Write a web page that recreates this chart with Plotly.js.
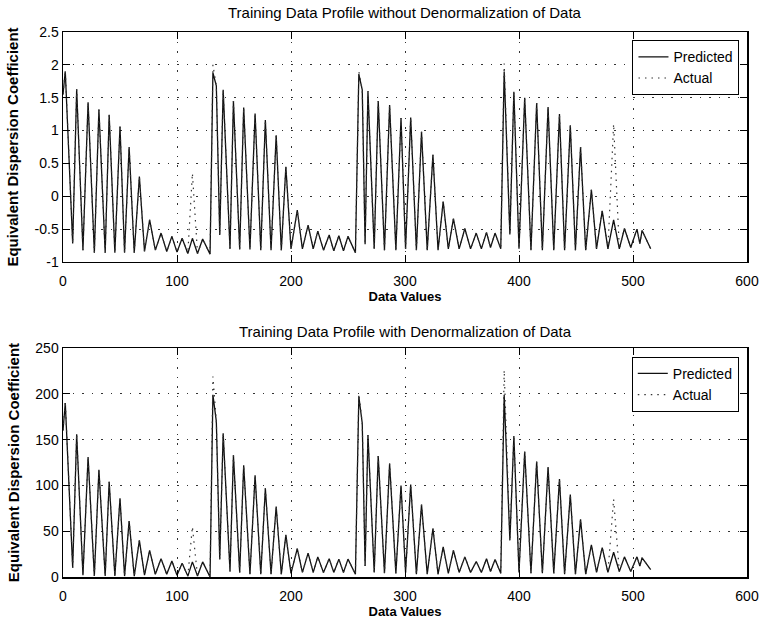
<!DOCTYPE html>
<html><head><meta charset="utf-8">
<script src="https://cdn.plot.ly/plotly-3.0.1.min.js"></script>
<style>html,body{margin:0;padding:0;background:#fff}#chart{width:759px;height:622px}</style>
</head><body><div id="chart"></div>
<script>
// Data index (vertices of the sampled profile: troughs and peaks)
const dataIndex = [
  0, 2, 8.5, 12, 17.5, 22, 27.5, 31.5, 37, 40.5, 45.5, 50, 54, 58, 62.5, 67, 71.5, 76, 81, 86, 91, 95.5, 100, 104.5, 109.5, 113.5, 118, 122.5, 129,
  131.5, 134.5, 137.5, 140.5, 146.5, 149.5, 155, 158.5, 164, 168.5, 173.5, 177.5, 182.5, 187, 191.5, 195.5, 200, 205.5, 210, 215, 219.5, 223.5, 228.5, 233.5, 237.5, 242, 246, 250, 256.5,
  259.5, 262.5, 265, 267.5, 273, 276.5, 282, 286.5, 292, 296.5, 300.5, 305, 310, 314.5, 319.5, 324.5, 329, 333.5, 338, 342.5, 347.5, 352.5, 357.5, 362.5, 367, 371.5, 375, 379, 384,
  387, 392, 395.5, 400, 405, 410.5, 415.5, 420.5, 425.5, 430.5, 435.5, 440, 445, 449.5, 454, 458.5, 463.5, 468, 473, 478, 483, 488, 492.5, 498, 503.5, 506, 508, 515.5
];

// Top panel: normalized values
const topPredicted = [
  1.55, 1.9, -0.72, 1.63, -0.82, 1.43, -0.86, 1.32, -0.86, 1.24, -0.86, 1.06, -0.86, 0.75, -0.86, 0.3, -0.84, -0.36, -0.82, -0.56, -0.84, -0.61, -0.85, -0.64, -0.87, -0.64, -0.87, -0.65, -0.88,
  1.88, 1.68, -0.59, 1.62, -0.8, 1.45, -0.81, 1.35, -0.81, 1.26, -0.82, 1.16, -0.82, 0.93, -0.82, 0.45, -0.8, -0.21, -0.8, -0.44, -0.8, -0.53, -0.82, -0.59, -0.83, -0.6, -0.83, -0.61, -0.86,
  1.86, 1.62, -0.73, 1.6, -0.8, 1.45, -0.82, 1.39, -0.82, 1.19, -0.8, 1.2, -0.82, 0.98, -0.82, 0.63, -0.82, -0.08, -0.8, -0.34, -0.8, -0.49, -0.8, -0.56, -0.8, -0.55, -0.78, -0.56, -0.8,
  1.9, -0.58, 1.59, -0.8, 1.5, -0.82, 1.42, -0.82, 1.36, -0.82, 1.25, -0.82, 1.08, -0.82, 0.75, -0.82, 0.1, -0.8, -0.22, -0.8, -0.36, -0.8, -0.49, -0.78, -0.5, -0.72, -0.52, -0.8
];
const topActual = [
  1.55, 1.92, -0.72, 1.63, -0.82, 1.43, -0.86, 1.32, -0.86, 1.24, -0.86, 1.06, -0.86, 0.75, -0.86, 0.3, -0.84, -0.36, -0.82, -0.56, -0.84, -0.61, -0.85, -0.64, -0.87, 0.35, -0.87, -0.65, -0.88,
  2.0, 1.68, -0.59, 1.62, -0.8, 1.45, -0.81, 1.35, -0.81, 1.26, -0.82, 1.16, -0.82, 0.93, -0.82, 0.45, -0.8, -0.21, -0.8, -0.44, -0.8, -0.53, -0.82, -0.59, -0.83, -0.6, -0.83, -0.61, -0.86,
  1.9, 1.62, -0.73, 1.6, -0.8, 1.45, -0.82, 1.39, -0.82, 1.19, -0.8, 1.2, -0.82, 0.98, -0.82, 0.63, -0.82, -0.08, -0.8, -0.34, -0.8, -0.49, -0.8, -0.56, -0.8, -0.55, -0.78, -0.56, -0.8,
  2.02, -0.58, 1.59, -0.8, 1.5, -0.82, 1.42, -0.82, 1.36, -0.82, 1.25, -0.82, 1.08, -0.82, 0.75, -0.82, 0.1, -0.8, -0.22, -0.8, 1.1, -0.8, -0.49, -0.78, -0.5, -0.72, -0.52, -0.8
];

// Bottom panel: denormalized values
const bottomPredicted = [
  160, 190, 10, 156, 2, 131, 1, 117, 1, 104, 1, 86, 1, 61, 1, 40, 2, 29, 3, 20, 3, 17.5, 2, 15, 1, 16.5, 1, 16.5, 0,
  199, 170, 19, 157, 6, 133, 5, 122, 3, 111, 3, 97, 3, 77, 3, 46, 4, 31, 5, 26, 5, 22, 5, 20, 5, 19.5, 5, 19.5, 3,
  197, 168, 12, 155, 5, 132, 4, 124, 4, 100, 5, 101, 3, 79, 3, 53, 3, 33, 4, 29, 5, 22, 5, 17, 5, 20, 6, 19, 4,
  199, 40, 154, 5, 137, 4, 126, 4, 120, 4, 107, 3, 90, 3, 63, 3, 35, 5, 32, 5, 27, 6, 22, 6, 22, 12, 21, 8
];
const bottomActual = [
  160, 192, 10, 156, 2, 131, 1, 117, 1, 104, 1, 86, 1, 61, 1, 40, 2, 29, 3, 20, 3, 17.5, 2, 15, 1, 55, 1, 16.5, 0,
  219, 170, 19, 157, 6, 133, 5, 122, 3, 111, 3, 97, 3, 77, 3, 46, 4, 31, 5, 26, 5, 22, 5, 20, 5, 19.5, 5, 19.5, 3,
  200, 168, 12, 155, 5, 132, 4, 124, 4, 100, 5, 101, 3, 79, 3, 53, 3, 33, 4, 29, 5, 22, 5, 17, 5, 20, 6, 19, 4,
  226, 40, 154, 5, 137, 4, 126, 4, 120, 4, 107, 3, 90, 3, 63, 3, 35, 5, 32, 5, 85, 6, 22, 6, 22, 12, 21, 8
];

const xTicks = [0, 100, 200, 300, 400, 500, 600];
const topYTicks = [-1, -0.5, 0, 0.5, 1, 1.5, 2, 2.5];
const topYLabels = ['-1', '-0.5', '0', '0.5', '1', '1.5', '2', '2.5'];
const bottomYTicks = [0, 50, 100, 150, 200, 250];
const bottomYLabels = ['0', '50', '100', '150', '200', '250'];
const seriesNames = ['Predicted', 'Actual'];
const titles = ['Training Data Profile without Denormalization of Data', 'Training Data Profile with Denormalization of Data'];
const xTitle = 'Data Values';
const yTitle = 'Equivalent Dispersion Coefficient';

const FONT = 'Liberation Sans, Arial, Helvetica, sans-serif';
const ink = '#111';

const traces = [
  {x: dataIndex, y: topPredicted, name: seriesNames[0], mode: 'lines', xaxis: 'x', yaxis: 'y', legend: 'legend',
   line: {color: ink, width: 1.3}},
  {x: dataIndex, y: topActual, name: seriesNames[1], mode: 'lines', xaxis: 'x', yaxis: 'y', legend: 'legend',
   line: {color: '#333', width: 1.2, dash: '1.5px,5px'}},
  {x: dataIndex, y: bottomPredicted, name: seriesNames[0], mode: 'lines', xaxis: 'x2', yaxis: 'y2', legend: 'legend2',
   line: {color: ink, width: 1.3}},
  {x: dataIndex, y: bottomActual, name: seriesNames[1], mode: 'lines', xaxis: 'x2', yaxis: 'y2', legend: 'legend2',
   line: {color: '#333', width: 1.2, dash: '1.5px,5px'}}
];

function xAxis(anchor) {
  return {
    anchor: anchor, domain: [0, 1], range: [0, 600], tickmode: 'array', tickvals: xTicks,
    ticks: 'inside', ticklen: 7, tickwidth: 1, tickcolor: '#000',
    showline: true, linecolor: '#000', linewidth: 1.5, mirror: 'ticks',
    showgrid: true, gridcolor: '#333', gridwidth: 1, griddash: '1.5px,8px', zeroline: false,
    tickfont: {family: FONT, size: 14, color: '#000'}, ticklabelstandoff: 6,
    title: {text: '<b>' + xTitle + '</b>', font: {family: FONT, size: 13, color: '#000'}, standoff: 0}
  };
}
function yAxis(anchor, domain, range, vals, labels) {
  return {
    anchor: anchor, domain: domain, range: range, tickmode: 'array', tickvals: vals, ticktext: labels,
    ticks: 'inside', ticklen: 7, tickwidth: 1, tickcolor: '#000',
    showline: true, linecolor: '#000', linewidth: 1.5, mirror: 'ticks',
    showgrid: true, gridcolor: '#333', gridwidth: 1, griddash: '1.5px,8px', zeroline: false,
    tickfont: {family: FONT, size: 14, color: '#000'},
    title: {text: '<b>' + yTitle + '</b>', font: {family: FONT, size: 15, color: '#000'}, standoff: 12}
  };
}

const legendStyle = {
  xanchor: 'right', yanchor: 'top', bgcolor: '#fff', bordercolor: '#000', borderwidth: 1,
  font: {family: FONT, size: 14, color: '#000'}, tracegroupgap: 0, itemwidth: 30
};

const layout = {
  width: 759, height: 622, paper_bgcolor: '#fff', plot_bgcolor: '#fff',
  margin: {l: 63, r: 12, t: 32, b: 45},
  showlegend: true,
  font: {family: FONT, color: '#000'},
  xaxis: xAxis('y'),
  yaxis: yAxis('x', [0.578, 1], [-1, 2.5], topYTicks, topYLabels),
  xaxis2: xAxis('y2'),
  yaxis2: yAxis('x2', [0, 0.42], [0, 250], bottomYTicks, bottomYLabels),
  legend: Object.assign({x: 0.989, y: 0.985}, legendStyle),
  legend2: Object.assign({x: 0.988, y: 0.404}, legendStyle),
  annotations: [
    {text: titles[0], xref: 'paper', yref: 'paper', x: 0.5, y: 1.035, xanchor: 'center', yanchor: 'middle',
     showarrow: false, font: {family: FONT, size: 15, color: '#000'}},
    {text: titles[1], xref: 'paper', yref: 'paper', x: 0.5, y: 0.451, xanchor: 'center', yanchor: 'middle',
     showarrow: false, font: {family: FONT, size: 15, color: '#000'}}
  ]
};

Plotly.newPlot('chart', traces, layout, {staticPlot: true, displayModeBar: false});
</script>
</body></html>
